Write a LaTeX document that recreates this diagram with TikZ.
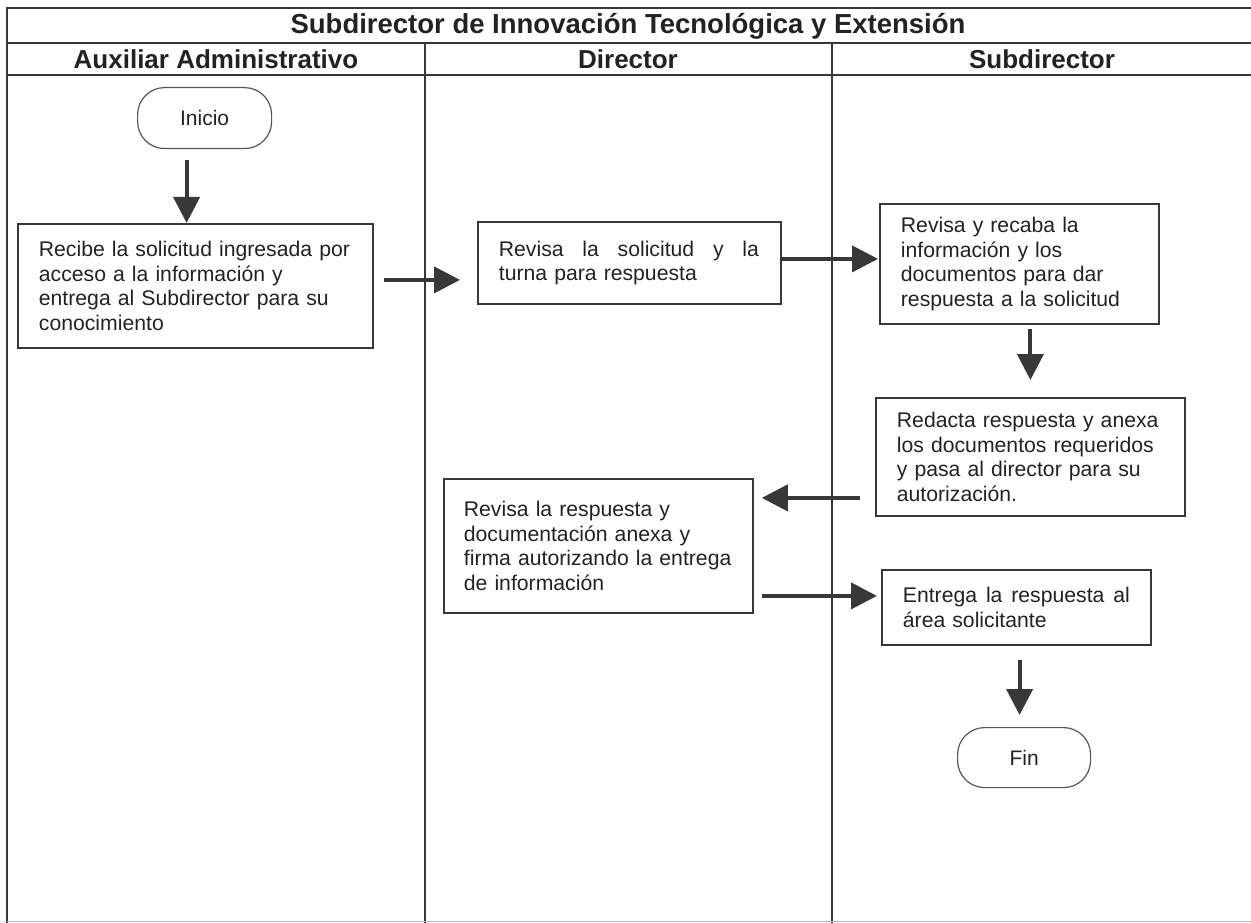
\documentclass[tikz,border=0pt]{standalone}
\usepackage{fontspec}
\setmainfont{Liberation Sans}
\usetikzlibrary{arrows.meta}
\definecolor{ink}{HTML}{222222}
\definecolor{rule}{HTML}{383838}

\begin{document}
\begin{tikzpicture}[x=1pt,y=-1pt,
  box/.style={draw=rule, line width=1.8pt, anchor=north west, inner ysep=0pt,
    align=left, text=ink, font=\fontsize{21.2}{24.6}\selectfont},
  term/.style={draw=rule!85, line width=1.2pt, rounded corners=27pt,
    anchor=north west, inner sep=0pt, text=ink, font=\fontsize{21}{24}\selectfont},
  flow/.style={draw=rule, line width=4pt, -{Triangle[length=26pt,width=26pt]}},
  lane/.style={draw=rule, line width=1.5pt},
  head/.style={font=\bfseries\fontsize{26}{30}\selectfont, text=ink},
]
\useasboundingbox (0,0) rectangle (1251,923);

% swimlane frame
\draw[lane] (1251,8) -- (7,8) -- (7,923);
\draw[lane] (7,43) -- (1251,43);
\draw[lane] (7,75) -- (1251,75);
\draw[lane] (425,43) -- (425,923);
\draw[lane] (832,43) -- (832,923);
\draw[draw=rule!35, line width=1pt] (7,921) -- (1251,921);

% headings
\node[head, font=\bfseries\fontsize{27.5}{30}\selectfont] (title) at (628,26) {Subdirector de Innovación Tecnológica y Extensión};
\node[head] (hA) at (216,59) {Auxiliar Administrativo};
\node[head] (hD) at (628,59) {Director};
\node[head] (hS) at (1042,59) {Subdirector};

% steps
\node[term, minimum width=134pt, minimum height=61pt] (ini) at (137,87) {Inicio};
\node[box, minimum height=124pt, inner xsep=21pt, text width=313pt] (b1) at (17,223)
  {Recibe la solicitud ingresada por\\acceso a la información y\\entrega al Subdirector para su\\conocimiento};
\node[box, minimum height=82pt, inner xsep=21pt, text width=261pt] (b2) at (477,221)
  {\hbox to 260pt{Revisa\hfill la\hfill solicitud\hfill y\hfill la}\\turna para respuesta\\[4pt]};
\node[box, minimum height=120pt, inner xsep=21pt, text width=237pt] (b3) at (879,203)
  {Revisa y recaba la\\información y los\\documentos para dar\\respuesta a la solicitud};
\node[box, minimum height=118pt, inner xsep=21pt, text width=267pt] (b4) at (875,397)
  {Redacta respuesta y anexa\\los documentos requeridos\\y pasa al director para su\\autorización.};
\node[box, minimum height=134pt, inner xsep=20pt, text width=269pt] (b5) at (443,478)
  {Revisa la respuesta y\\documentación anexa y\\firma autorizando la entrega\\de información};
\node[box, minimum height=75pt, inner xsep=21pt, text width=227pt] (b6) at (881,569)
  {\hbox to 227pt{Entrega\hfill la\hfill respuesta\hfill al}\\área solicitante};
\node[term, minimum width=133pt, minimum height=60pt] (fin) at (957,727) {Fin};

% flow
\draw[flow, shorten <=11pt] ([xshift=-18pt]ini.south) -- ([xshift=-18pt]ini.south |- b1.north);
\draw[flow, shorten <=10pt, shorten >=17pt] ([yshift=6pt]b1.east) -- ([yshift=6pt]b1.east -| b2.west);
\draw[flow, shorten >=1pt] ([yshift=4pt]b2.east) -- ([yshift=4pt]b2.east -| b3.west);
\draw[flow, shorten <=4pt, shorten >=17pt] (b3.south -| b4.north) -- (b4.north);
\draw[flow, shorten <=15pt, shorten >=8pt] ([yshift=-41pt]b4.west) -- ([yshift=-41pt]b4.west -| b5.east);
\draw[flow, shorten <=8pt, shorten >=4pt] ([yshift=-50pt]b5.east) -- ([yshift=-50pt]b5.east -| b6.west);
\draw[flow, shorten <=14pt, shorten >=12pt] ([xshift=-4.5pt]fin.north |- b6.south) -- ([xshift=-4.5pt]fin.north);
\end{tikzpicture}
\end{document}
